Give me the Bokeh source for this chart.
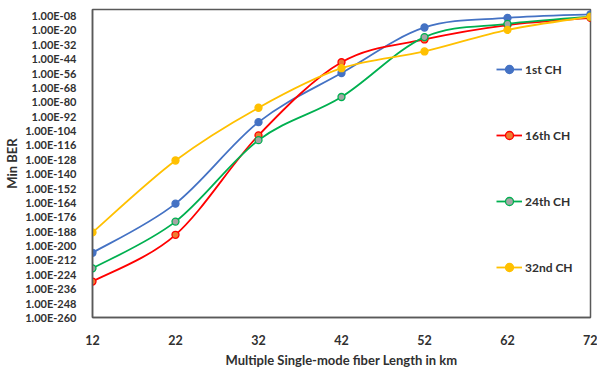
from bokeh.plotting import figure
from bokeh.models import Legend, LegendItem, FixedTicker, Range1d
from bokeh.embed import file_html
from bokeh.resources import INLINE

# Fiber length (km)
lengths = [12, 22, 32, 42, 52, 62, 72]
# Min BER exponents (BER = 1e<value>)
ch1 = [-206, -165, -97, -56, -18, -10, -7]
ch16 = [-230, -191, -108, -47, -28, -16, -10]
ch24 = [-219, -180, -112, -76, -26, -15, -9]
ch32 = [-189, -129, -85, -52, -38, -20, -9]

series_names = ["1st CH", "16th CH", "24th CH", "32nd CH"]
series_vals = [ch1, ch16, ch24, ch32]

y_ticks = list(range(-260, -7, 12))
y_tick_labels = {t: "1.00E-%02d" % (-t) for t in y_ticks}

line_colors = ["#4472C4", "#FF0000", "#00B050", "#FFC000"]
fill_colors = ["#4472C4", "#ED7D31", "#A5A5A5", "#FFC000"]

FONT = "Lato"
TXT = "#303030"

p = figure(width=597, height=370, output_backend="svg", toolbar_location=None,
           x_range=Range1d(12, 72), y_range=Range1d(-260, -3),
           min_border_left=92, min_border_right=7, min_border_top=9, min_border_bottom=47)
p.xgrid.visible = False
p.ygrid.visible = False
p.background_fill_color = "white"
p.border_fill_color = "white"
p.outline_line_color = "#595959"
p.outline_line_width = 1.5


def smooth_ctrl(xs, ys, t=1.0 / 6.0):
    n = len(xs)
    x0, y0, x1, y1, cx0, cy0, cx1, cy1 = [], [], [], [], [], [], [], []
    for i in range(n - 1):
        ip = max(i - 1, 0)
        inn = min(i + 2, n - 1)
        x0.append(xs[i]); y0.append(ys[i])
        x1.append(xs[i + 1]); y1.append(ys[i + 1])
        cx0.append(xs[i] + (xs[i + 1] - xs[ip]) * t)
        cy0.append(ys[i] + (ys[i + 1] - ys[ip]) * t)
        cx1.append(xs[i + 1] - (xs[inn] - xs[i]) * t)
        cy1.append(ys[i + 1] - (ys[inn] - ys[i]) * t)
    return dict(x0=x0, y0=y0, x1=x1, y1=y1, cx0=cx0, cy0=cy0, cx1=cx1, cy1=cy1)


items = []
for name, vals, lc, fc in zip(series_names, series_vals, line_colors, fill_colors):
    d = smooth_ctrl(lengths, vals)
    b = p.bezier(x0=d["x0"], y0=d["y0"], x1=d["x1"], y1=d["y1"],
                 cx0=d["cx0"], cy0=d["cy0"], cx1=d["cx1"], cy1=d["cy1"],
                 line_color=lc, line_width=1.8)
    s = p.scatter(lengths, vals, size=7, marker="circle", fill_color=fc,
                  line_color=lc, line_width=1.3)
    items.append(LegendItem(label=name, renderers=[b, s]))

legend = Legend(items=items, orientation="vertical")
legend.location = (404, 40)
legend.spacing = 46
legend.glyph_width = 26
legend.glyph_height = 20
legend.label_height = 20
legend.label_standoff = 3
legend.border_line_color = None
legend.background_fill_alpha = 0
legend.label_text_font = FONT
legend.label_text_font_style = "bold"
legend.label_text_font_size = "12px"
legend.label_text_color = TXT
legend.padding = 0
legend.margin = 0
p.add_layout(legend, "center")

# axes
p.xaxis.ticker = FixedTicker(ticks=lengths)
p.yaxis.ticker = FixedTicker(ticks=y_ticks)
p.yaxis.major_label_overrides = y_tick_labels
for ax in (p.xaxis[0], p.yaxis[0]):
    ax.major_tick_line_color = None
    ax.minor_tick_line_color = None
    ax.axis_line_color = "#595959"
    ax.axis_line_width = 1.5
    ax.major_label_text_font = FONT
    ax.major_label_text_font_style = "bold"
    ax.major_label_text_color = TXT
    ax.axis_label_text_font = FONT
    ax.axis_label_text_font_style = "bold"
    ax.axis_label_text_font_size = "13px"
    ax.axis_label_text_color = TXT
p.yaxis.major_label_text_font_size = "11px"
p.xaxis.major_label_text_font_size = "12.5px"
p.yaxis.axis_label_text_font_size = "13px"
p.yaxis.major_label_standoff = 10
p.xaxis.major_label_standoff = 11
p.xaxis.axis_label = "Multiple Single-mode fiber Length in km"
p.yaxis.axis_label = "Min BER"
p.xaxis.axis_label_standoff = 4
p.yaxis.axis_label_standoff = 2

open("out.html", "w").write(file_html(p, INLINE))
